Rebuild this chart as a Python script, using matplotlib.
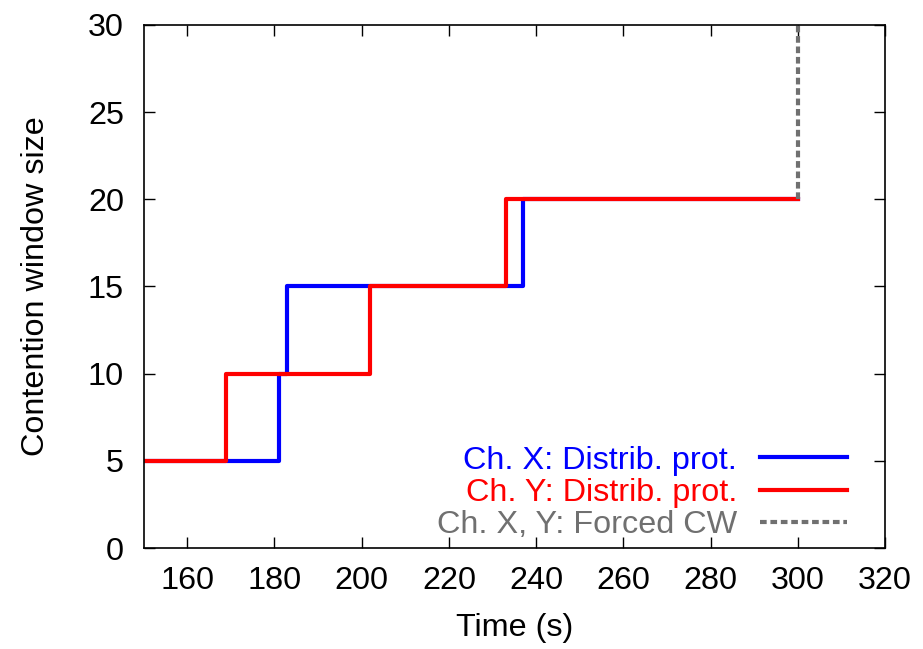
import numpy as np
import matplotlib
matplotlib.use("Agg")
from matplotlib import pyplot as plt

plt.rcParams['font.family'] = ['Liberation Sans', 'DejaVu Sans']

# step change times (s) and contention window sizes
chx_t = [150, 181, 183, 237, 300]
chx_cw = [5, 10, 15, 20, 20]
chy_t = [150, 169, 202, 233, 300]
chy_cw = [5, 10, 15, 20, 20]
forced_t = [300, 300]
forced_cw = [20, 30]

xticks = [160, 180, 200, 220, 240, 260, 280, 300, 320]
yticks = [0, 5, 10, 15, 20, 25, 30]

fs = 23.3
fig = plt.figure(figsize=(9.23, 6.49), dpi=100)
ax = fig.add_axes([0.1555, 0.1556, 0.8035, 0.806])

ax.step(chx_t, chx_cw, where='post', color='#0000ff', lw=3, label='Ch. X: Distrib. prot.')
ax.step(chy_t, chy_cw, where='post', color='#ff0000', lw=3, label='Ch. Y: Distrib. prot.')
ax.plot(forced_t, forced_cw, color='#707070', lw=3, ls=(0, (1.6, 0.9)),
        label='Ch. X, Y: Forced CW')

ax.set_xlim(150, 320)
ax.set_ylim(0, 30)
ax.set_xticks(xticks)
ax.set_yticks(yticks)
ax.tick_params(direction='in', length=8, width=1, labelsize=fs,
               top=True, right=True)
ax.tick_params(axis='y', pad=14)
ax.tick_params(axis='x', pad=13)
for s in ax.spines.values():
    s.set_linewidth(1.2)

ax.set_xlabel('Time (s)', fontsize=fs)
ax.set_ylabel('Contention window size', fontsize=fs)
ax.xaxis.set_label_coords(0.5, -0.124)
ax.yaxis.set_label_coords(-0.125, 0.5)

ax.legend(loc='lower right', bbox_to_anchor=(0.949, 0.015), frameon=False,
          markerfirst=False, labelcolor='linecolor', fontsize=fs,
          handlelength=2.7, handletextpad=0.7, labelspacing=0.07,
          borderaxespad=0, borderpad=0)

fig.savefig('out.png', dpi=100)
